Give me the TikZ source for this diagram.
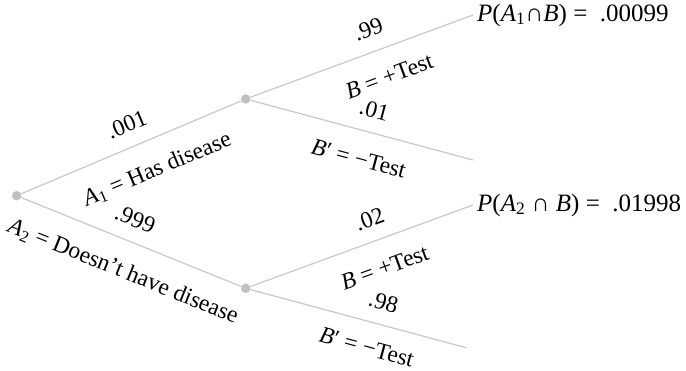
\documentclass[tikz,border=0pt]{standalone}
\usepackage{fontspec}
\setmainfont{Liberation Serif}
\definecolor{branchgray}{RGB}{200,200,200}
\definecolor{dotgray}{RGB}{192,192,192}
\newcommand{\ev}[2]{\textit{#1}\textsubscript{#2}}
\begin{document}
\begin{tikzpicture}[x=1pt, y=1pt,
    branch/.style={draw=branchgray, line width=1.2pt},
    fork/.style={circle, fill=dotgray, inner sep=0pt, minimum size=9.5pt},
    prob/.style={sloped, above=14pt, inner sep=0pt, font=\fontsize{23.5}{26}\selectfont},
    event/.style={sloped, below=#1, inner sep=0pt, font=\fontsize{23.5}{26}\selectfont},
    event/.default=20pt,
    joint/.style={anchor=west, inner sep=4pt, font=\fontsize{25}{28}\selectfont}]
  \useasboundingbox (0,0) rectangle (686,371);
  \node[fork] (root) at (16.7,175.3) {};
  \node[fork] (has) at (245.7,272) {};
  \node[fork] (hasnot) at (245.7,82.7) {};
  \coordinate (hasPos) at (473,356);
  \coordinate (hasNeg) at (473,211);
  \coordinate (notPos) at (473,166);
  \coordinate (notNeg) at (466,23.3);
  % first stage: disease or not
  \path[branch] (root) -- node[prob, pos=.52] {.001} node[event, pos=.565] {\ev{A}{1} = Has disease} (has);
  \path[branch] (root) -- node[prob, pos=.48] {.999} node[event, pos=.515] {\ev{A}{2} = Doesn't have disease} (hasnot);
  % second stage: test result
  \path[branch] (has) -- node[prob, pos=.565] {.99} node[event, pos=.58] {\textit{B} = +Test} (hasPos);
  \path[branch] (has) -- node[prob, pos=.53] {.01} node[event, pos=.52] {\textit{B}′ = −Test} (hasNeg);
  \path[branch] (hasnot) -- node[prob, pos=.57] {.02} node[event, pos=.56] {\textit{B} = +Test} (notPos);
  \path[branch] (hasnot) -- node[prob, pos=.59] {.98} node[event=17pt, pos=.57] {\textit{B}′ = −Test} (notNeg);
  \node[joint] (jointA) at (hasPos) {\textit{P}(\ev{A}{1}∩\textit{B}) =~~.00099};
  \node[joint] (jointB) at (notPos) {\textit{P}(\ev{A}{2} ∩ \textit{B}) =~~.01998};
\end{tikzpicture}
\end{document}
